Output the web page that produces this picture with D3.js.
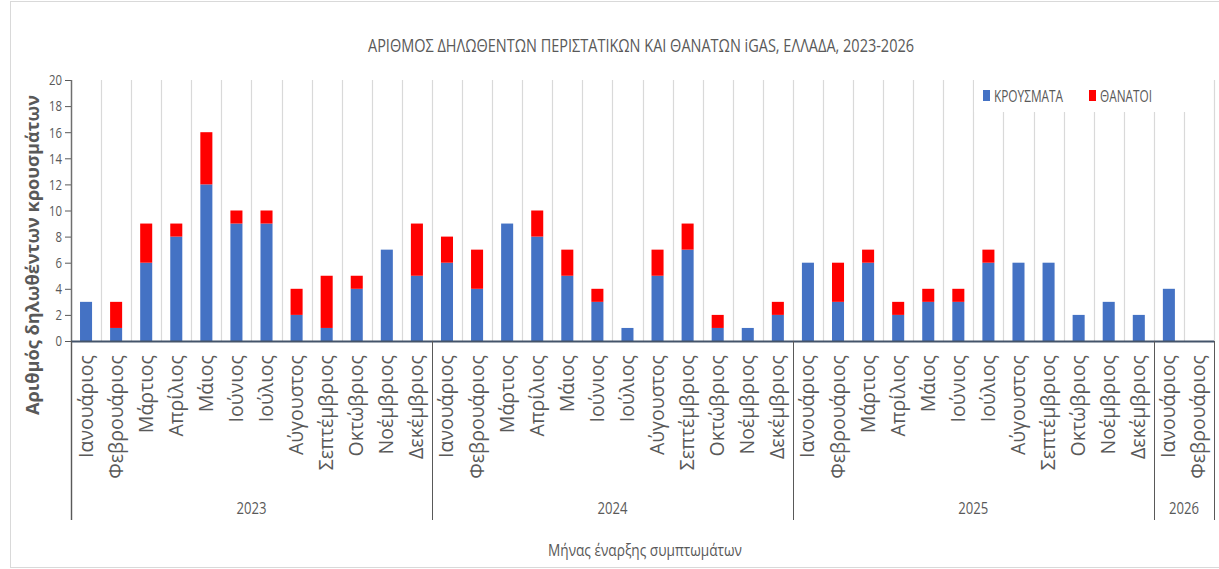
<!DOCTYPE html>
<html>
<head>
<meta charset="utf-8">
<script src="https://cdnjs.cloudflare.com/ajax/libs/d3/7.8.5/d3.min.js"></script>
<style>
  body { margin: 0; background: #fff; }
  text { fill: #595959; }
</style>
</head>
<body>
<div id="chart"></div>
<script>
// chart data
var years = ["2023", "2024", "2025", "2026"];
var months = ["Ιανουάριος", "Φεβρουάριος", "Μάρτιος", "Απρίλιος", "Μάιος", "Ιούνιος",
  "Ιούλιος", "Αύγουστος", "Σεπτέμβριος", "Οκτώβριος", "Νοέμβριος", "Δεκέμβριος"];
var monthsPerYear = [12, 12, 12, 2];
var cases = [3, 1, 6, 8, 12, 9, 9, 2, 1, 4, 7, 5,
  6, 4, 9, 8, 5, 3, 1, 5, 7, 1, 1, 2,
  6, 3, 6, 2, 3, 3, 6, 6, 6, 2, 3, 2,
  4, 0];
var deaths = [0, 2, 3, 1, 4, 1, 1, 2, 4, 1, 0, 4,
  2, 3, 0, 2, 2, 1, 0, 2, 2, 1, 0, 1,
  0, 3, 1, 1, 1, 1, 1, 0, 0, 0, 0, 0,
  0, 0];
var yTicks = [0, 2, 4, 6, 8, 10, 12, 14, 16, 18, 20];
var seriesNames = ["ΚΡΟΥΣΜΑΤΑ", "ΘΑΝΑΤΟΙ"];
var colors = ["#4472c4", "#ff0000"];

// build rows
var rows = [];
var k = 0;
years.forEach(function(y, yi) {
  for (var m = 0; m < monthsPerYear[yi]; m++) {
    rows.push({ id: y + "-" + m, year: y, month: months[m], cases: cases[k], deaths: deaths[k] });
    k++;
  }
});

var W = 1219, H = 569;
var margin = {top: 80, left: 71, right: 5, bottom: 228};
var plotW = 1214 - margin.left, plotH = 341 - margin.top;
var sans = "'Open Sans', sans-serif";

var svg = d3.select("#chart").append("svg")
  .attr("width", W).attr("height", H);

// outer chart border
svg.append("rect").attr("x", 10.5).attr("y", 1.5).attr("width", 1240).attr("height", 566)
  .attr("fill", "none").attr("stroke", "#d9d9d9");

var g = svg.append("g").attr("transform", "translate(" + margin.left + "," + margin.top + ")");

var x = d3.scaleBand().domain(rows.map(d => d.id)).range([0, plotW]).paddingInner(0.6).paddingOuter(0.3);
var step = x.step();
var y = d3.scaleLinear().domain([0, 20]).range([plotH, 0]);

// vertical gridlines at category boundaries
g.selectAll(".grid").data(rows).enter().append("line")
  .attr("x1", (d, i) => Math.round((i + 1) * step) + 0.5)
  .attr("x2", (d, i) => Math.round((i + 1) * step) + 0.5)
  .attr("y1", 0).attr("y2", plotH)
  .attr("stroke", "#d9d9d9").attr("stroke-width", 1.2);

// legend background hides gridlines behind it
g.append("rect").attr("x", 903).attr("y", 0).attr("width", 236).attr("height", 32).attr("fill", "#fff");

// stacked bars
var stack = d3.stack().keys(["cases", "deaths"]);
var layers = stack(rows);
g.selectAll(".layer").data(layers).enter().append("g")
  .attr("fill", (d, i) => colors[i])
  .selectAll("rect").data(d => d).enter().append("rect")
  .attr("x", d => x(d.data.id))
  .attr("width", x.bandwidth())
  .attr("y", d => y(d[1]))
  .attr("height", d => y(d[0]) - y(d[1]));

// y axis
var yAxis = g.append("g").call(d3.axisLeft(y).tickValues(yTicks).tickSize(6).tickPadding(3));
yAxis.select(".domain").remove();
yAxis.selectAll(".tick line").attr("stroke", "#595959");
yAxis.selectAll("text").attr("font-family", sans)
  .attr("font-size", 15).style("fill", "#595959")
  .attr("textLength", d => String(d).length * 6.5).attr("lengthAdjust", "spacingAndGlyphs");

// left axis line extends down through the labels
g.append("line").attr("x1", 0.5).attr("x2", 0.5).attr("y1", 0).attr("y2", 440)
  .attr("stroke", "#6f6f6f").attr("stroke-width", 1.5);

// x axis baseline
g.append("line").attr("x1", 0).attr("x2", plotW).attr("y1", plotH + 0.5).attr("y2", plotH + 0.5)
  .attr("stroke", "#44546a").attr("stroke-width", 2);

// year separators
var cum = 0;
var bounds = [0];
monthsPerYear.forEach(function(n) { cum += n; bounds.push(cum); });
g.selectAll(".sep").data(bounds).enter().append("line")
  .attr("x1", d => Math.round(d * step) + 0.5).attr("x2", d => Math.round(d * step) + 0.5)
  .attr("y1", plotH).attr("y2", 440)
  .attr("stroke", "#595959");

// month labels
g.selectAll(".mlab").data(rows).enter().append("text")
  .attr("transform", d => "translate(" + (x(d.id) + x.bandwidth() / 2 + 6.5) + "," + (plotH + 14) + ") rotate(-90)")
  .attr("text-anchor", "end")
  .attr("font-family", sans)
  .attr("font-size", 19.5)
  .text(d => d.month);

// year labels
g.selectAll(".ylab").data(years).enter().append("text")
  .attr("x", (d, i) => (bounds[i] + bounds[i + 1]) / 2 * step - 15)
  .attr("y", 434)
  .attr("font-family", sans)
  .attr("font-size", 17)
  .attr("textLength", 30).attr("lengthAdjust", "spacingAndGlyphs")
  .text(d => d);

// title
svg.append("text").attr("x", 368).attr("y", 52)
  .attr("font-family", sans)
  .attr("font-size", 18)
  .attr("textLength", 546).attr("lengthAdjust", "spacingAndGlyphs")
  .text("ΑΡΙΘΜΟΣ ΔΗΛΩΘΕΝΤΩΝ ΠΕΡΙΣΤΑΤΙΚΩΝ ΚΑΙ ΘΑΝΑΤΩΝ iGAS, ΕΛΛΑΔΑ, 2023-2026");

// y axis title
svg.append("text").attr("transform", "translate(39,415) rotate(-90)")
  .attr("font-family", sans).attr("font-weight", "bold")
  .attr("font-size", 18)
  .attr("textLength", 320).attr("lengthAdjust", "spacingAndGlyphs")
  .text("Αριθμός δηλωθέντων κρουσμάτων");

// x axis title
svg.append("text").attr("x", 548).attr("y", 556)
  .attr("font-family", sans)
  .attr("font-size", 17)
  .attr("textLength", 194).attr("lengthAdjust", "spacingAndGlyphs")
  .text("Μήνας έναρξης συμπτωμάτων");

// legend
var legX = [983, 1089];
var legLen = [69, 52];
var leg = svg.selectAll(".leg").data(seriesNames).enter().append("g")
  .attr("transform", (d, i) => "translate(" + legX[i] + ",90)");
leg.append("rect").attr("width", 7).attr("height", 11).attr("fill", (d, i) => colors[i]);
leg.append("text").attr("x", 11).attr("y", 11.5)
  .attr("font-family", sans)
  .attr("font-size", 16)
  .attr("textLength", (d, i) => legLen[i]).attr("lengthAdjust", "spacingAndGlyphs")
  .text(d => d);
</script>
</body>
</html>
